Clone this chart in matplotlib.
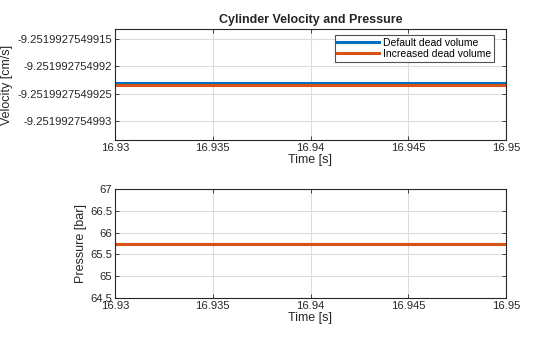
import matplotlib.pyplot as plt
from matplotlib.ticker import FixedLocator, FixedFormatter

plt.rcParams['font.family'] = ['Liberation Sans', 'DejaVu Sans']

# Data
time = [16.93, 16.95]
vel_default = [-9.2519927549923, -9.2519927549923]
vel_increased = [-9.25199275499235, -9.25199275499235]
pres_default = [65.75, 65.75]
pres_increased = [65.75, 65.75]

vel_ticks = [-9.251992754993, -9.2519927549925, -9.251992754992, -9.2519927549915]
vel_labels = ['-9.251992754993', '-9.2519927549925', '-9.251992754992', '-9.2519927549915']
pres_ticks = [64.5, 65, 65.5, 66, 66.5, 67]
pres_labels = ['64.5', '65', '65.5', '66', '66.5', '67']
x_ticks = [16.93, 16.935, 16.94, 16.945, 16.95]
x_labels = ['16.93', '16.935', '16.94', '16.945', '16.95']

blue = '#0072BD'
orange = '#D95319'
dark = '#262626'

fig = plt.figure(figsize=(5.6, 3.37), dpi=100)
W, H = 560, 337
ax1 = fig.add_axes([115 / W, 1 - 140 / H, 391 / W, 111 / H])
ax2 = fig.add_axes([115 / W, 1 - 298 / H, 391 / W, 109 / H])


def style(ax):
    ax.set_xlim(16.93, 16.95)
    ax.xaxis.set_major_locator(FixedLocator(x_ticks))
    ax.xaxis.set_major_formatter(FixedFormatter(x_labels))
    ax.grid(True, color='#dcdcdc', linewidth=0.8)
    ax.set_axisbelow(True)
    ax.tick_params(direction='in', top=True, right=True, labelsize=8.1,
                   colors=dark, length=3, width=0.6, pad=2)
    for s in ax.spines.values():
        s.set_color(dark)
        s.set_linewidth(0.8)
    ax.set_xlabel('Time [s]', fontsize=9, color=dark, labelpad=1)


ax1.plot(time, vel_default, color=blue, linewidth=2.2, label='Default dead volume')
ax1.plot(time, vel_increased, color=orange, linewidth=2.2, label='Increased dead volume')
ax1.set_ylim(-9.25199275499335, -9.25199275499132)
ax1.yaxis.set_major_locator(FixedLocator(vel_ticks))
ax1.yaxis.set_major_formatter(FixedFormatter(vel_labels))
style(ax1)
ax1.set_ylabel('Velocity [cm/s]', fontsize=9, color=dark)
ax1.yaxis.set_label_coords(-102 / 391, 0.5)
ax1.set_title('Cylinder Velocity and Pressure', fontsize=9, fontweight='bold',
              color=dark, pad=4)
leg = ax1.legend(loc='upper right', fontsize=7.5, frameon=True, fancybox=False,
                 edgecolor=dark, handlelength=4, borderpad=0.25, labelspacing=0.1,
                 handletextpad=0.4, borderaxespad=0.6, bbox_to_anchor=(0.985, 1.0))
leg.get_frame().set_linewidth(0.8)

ax2.plot(time, pres_default, color=blue, linewidth=2.2)
ax2.plot(time, pres_increased, color=orange, linewidth=2.2)
ax2.set_ylim(64.5, 67)
ax2.yaxis.set_major_locator(FixedLocator(pres_ticks))
ax2.yaxis.set_major_formatter(FixedFormatter(pres_labels))
style(ax2)
ax2.set_ylabel('Pressure [bar]', fontsize=9, color=dark, labelpad=2)

fig.savefig('out.png', dpi=100)
